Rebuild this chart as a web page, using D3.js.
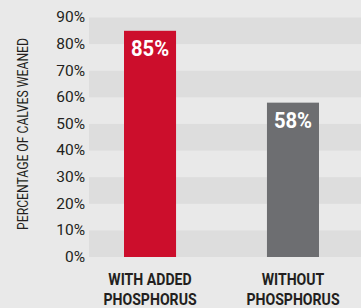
<!DOCTYPE html>
<html lang="en">
<head>
    <meta charset="UTF-8">
    <title>Calves weaned</title>
    <script src="https://d3js.org/d3.v7.min.js"></script>
</head>
<style>
    html,body {
        margin: 0;
        padding: 0;
        background: #e9e9e9;
    }
    svg text {
        font-family: Roboto, sans-serif;
    }
</style>
<body>
    <div id="svg"></div>
</body>
<script>
    const categories = [['WITH ADDED', 'PHOSPHORUS'], ['WITHOUT', 'PHOSPHORUS']];
    const values = [85, 58];
    const colors = ['#cc0e2c', '#6d6e71'];
    const ticks = [0, 10, 20, 30, 40, 50, 60, 70, 80, 90];

    const width = 361;
    const height = 308;
    const margin = {top: 17.5, bottom: 51, left: 89};

    const svg = d3.select('#svg').append('svg')
        .attr('width', width)
        .attr('height', height);

    // bars: 52px wide, first at 124, second at 267
    const x = d3.scaleBand()
        .domain(d3.range(values.length))
        .range([124, 319])
        .paddingInner(0.636)
        .paddingOuter(0);

    const y = d3.scaleLinear()
        .domain([0, 90])
        .range([height - margin.bottom, margin.top]);

    // alternating bands (darker on 0-10, 20-30, ...)
    svg.selectAll('rect.band').data(ticks.slice(0, -1).filter(t => t % 20 === 0)).enter().append('rect')
        .attr('class', 'band')
        .attr('x', margin.left)
        .attr('width', width - margin.left)
        .attr('y', d => y(d + 10))
        .attr('height', d => y(d) - y(d + 10))
        .attr('fill', '#dddddd');

    // y axis labels
    const yAxis = d3.axisLeft(y).tickValues(ticks).tickFormat(d => d + '%').tickSize(0).tickPadding(4);
    const ga = svg.append('g').attr('transform', `translate(${margin.left},0)`).call(yAxis);
    ga.select('.domain').remove();
    ga.selectAll('text')
        .attr('font-size', '15.5px')
        .attr('fill', '#231f20')
        .attr('dy', '0.28em')
        .style('font-family', 'Roboto, sans-serif');

    // bars
    svg.selectAll('rect.bar').data(values).enter().append('rect')
        .attr('class', 'bar')
        .attr('x', (d, i) => x(i))
        .attr('y', d => y(d))
        .attr('width', x.bandwidth())
        .attr('height', d => y(0) - y(d))
        .attr('fill', (d, i) => colors[i]);

    // value labels (condensed look via horizontal scale)
    svg.selectAll('text.val').data(values).enter().append('text')
        .attr('class', 'val')
        .attr('transform', (d, i) => `translate(${x(i) + x.bandwidth() / 2},${y(d) + 25}) scale(0.92,1)`)
        .attr('text-anchor', 'middle')
        .attr('font-size', '22px')
        .attr('font-weight', 'bold')
        .attr('fill', '#fff')
        .text(d => d + '%');

    // category labels
    categories.forEach((lines, i) => {
        lines.forEach((t, j) => {
            svg.append('text')
                .attr('transform', `translate(${x(i) + x.bandwidth() / 2},${285 + j * 19.5}) scale(0.83,1)`)
                .attr('text-anchor', 'middle')
                .attr('font-size', '17px')
                .attr('font-weight', 'bold')
                .attr('fill', '#231f20')
                .text(t);
        });
    });

    // y axis title
    svg.append('text')
        .attr('transform', `translate(27.5,134) rotate(-90) scale(0.84,1)`)
        .attr('text-anchor', 'middle')
        .attr('font-size', '14.5px')
        .attr('fill', '#231f20')
        .text('PERCENTAGE OF CALVES WEANED');
</script>
</html>
